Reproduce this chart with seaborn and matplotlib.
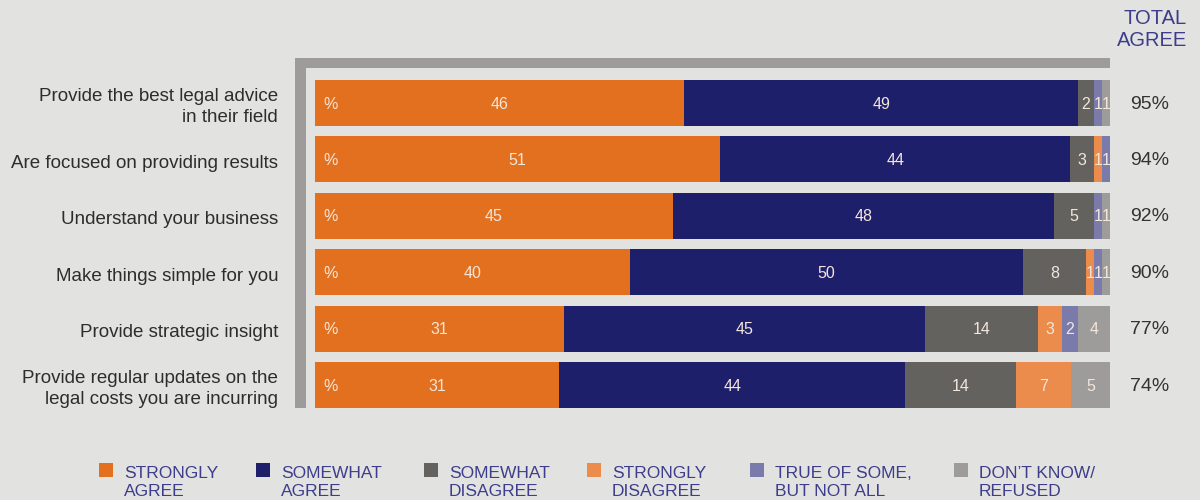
import matplotlib
matplotlib.use("Agg")
import matplotlib.pyplot as plt
from matplotlib.patches import Rectangle
from matplotlib.transforms import blended_transform_factory
import seaborn as sns
import pandas as pd
import numpy as np

# ---------------- data ----------------
rows = [
    "Provide the best legal advice\nin their field",
    "Are focused on providing results",
    "Understand your business",
    "Make things simple for you",
    "Provide strategic insight",
    "Provide regular updates on the\nlegal costs you are incurring",
]
categories = ["STRONGLY\nAGREE", "SOMEWHAT\nAGREE", "SOMEWHAT\nDISAGREE",
              "STRONGLY\nDISAGREE", "TRUE OF SOME,\nBUT NOT ALL", "DON\u2019T KNOW/\nREFUSED"]
strongly_agree = [46, 51, 45, 40, 31, 31]
somewhat_agree = [49, 44, 48, 50, 45, 44]
somewhat_disagree = [2, 3, 5, 8, 14, 14]
strongly_disagree = [0, 1, 0, 1, 3, 7]
true_of_some = [1, 1, 1, 1, 2, 0]
dont_know = [1, 0, 1, 1, 4, 5]
total_agree = [95, 94, 92, 90, 77, 74]

series = [strongly_agree, somewhat_agree, somewhat_disagree,
          strongly_disagree, true_of_some, dont_know]
colors = ["#E2701F", "#1E1F6B", "#63625E", "#EB8B4C", "#7B7BAB", "#9D9C9A"]

BG = "#E2E2E0"
LABEL_C = "#F3E6DA"
NAVY_TXT = "#3D3D8C"

# ---------------- setup ----------------
sns.set_theme(style="white")
plt.rcParams["font.family"] = ["Liberation Sans", "DejaVu Sans"]

fig = plt.figure(figsize=(12, 5), dpi=100, facecolor=BG)
ax = fig.add_axes([315 / 1200, 1 - 408 / 500, (1110 - 315) / 1200, 340 / 500])
ax.set_facecolor(BG)

vals = np.array(series, dtype=float)           # shape (6 cats, 6 rows)
row_sum = vals.sum(axis=0)
pct = vals / row_sum * 100                      # scale each bar to full width
cum = np.cumsum(pct, axis=0)

# draw stacked bars: widest cumulative first
for k in range(len(categories) - 1, -1, -1):
    df = pd.DataFrame({"row": rows, "end": cum[k]})
    sns.barplot(data=df, x="end", y="row", color=colors[k], orient="h",
                width=0.816, saturation=1, linewidth=0, ax=ax)

# value labels
for k in range(len(categories)):
    for i in range(len(rows)):
        v = vals[k, i]
        if v <= 0:
            continue
        start = cum[k, i] - pct[k, i]
        ax.text(start + pct[k, i] / 2, i + 0.02, f"{int(v)}", ha="center", va="center",
                color=LABEL_C, fontsize=11.5)

for i in range(len(rows)):
    ax.text(1.9, i + 0.02, "%", ha="center", va="center", color=LABEL_C, fontsize=11.5)
    ax.text(105.0, i + 0.02, f"{total_agree[i]}%", ha="center", va="center",
            color="#333333", fontsize=14, clip_on=False)

ax.set_xlim(0, 100)
ax.set_ylim(5.408, -0.62)
ax.set_xlabel("")
ax.set_ylabel("")
ax.set_xticks([])
ax.set_yticks([])
for s in ax.spines.values():
    s.set_visible(False)

# row labels
trans = blended_transform_factory(fig.transFigure, ax.transData)
for i, lab in enumerate(rows):
    ax.text(278 / 1200, i + 0.07, lab, transform=trans, ha="right", va="center",
            fontsize=13.5, color="#2D2D2D", linespacing=1.33, clip_on=False)

# frame (gray L-shape)
fig.add_artist(Rectangle((295 / 1200, 1 - 408 / 500), 11 / 1200, 350 / 500,
                         transform=fig.transFigure, color="#9D9C9A", lw=0))
fig.add_artist(Rectangle((295 / 1200, 1 - 68 / 500), (1110 - 295) / 1200, 10 / 500,
                         transform=fig.transFigure, color="#9D9C9A", lw=0))

# header
fig.text(1187 / 1200, 1 - 9 / 500, "TOTAL\nAGREE", ha="right", va="top",
         color=NAVY_TXT, fontsize=14.5, linespacing=1.17)

# legend
leg_x = [99, 256, 424, 587, 750, 954]
for k, lab in enumerate(categories):
    fig.add_artist(Rectangle((leg_x[k] / 1200, 1 - 477 / 500), 14 / 1200, 14 / 500,
                             transform=fig.transFigure, color=colors[k], lw=0))
    fig.text((leg_x[k] + 25) / 1200, 1 - 466 / 500, lab, ha="left", va="top",
             color=NAVY_TXT, fontsize=12.5, linespacing=1.24)

fig.savefig("out.png", dpi=100, facecolor=BG)
